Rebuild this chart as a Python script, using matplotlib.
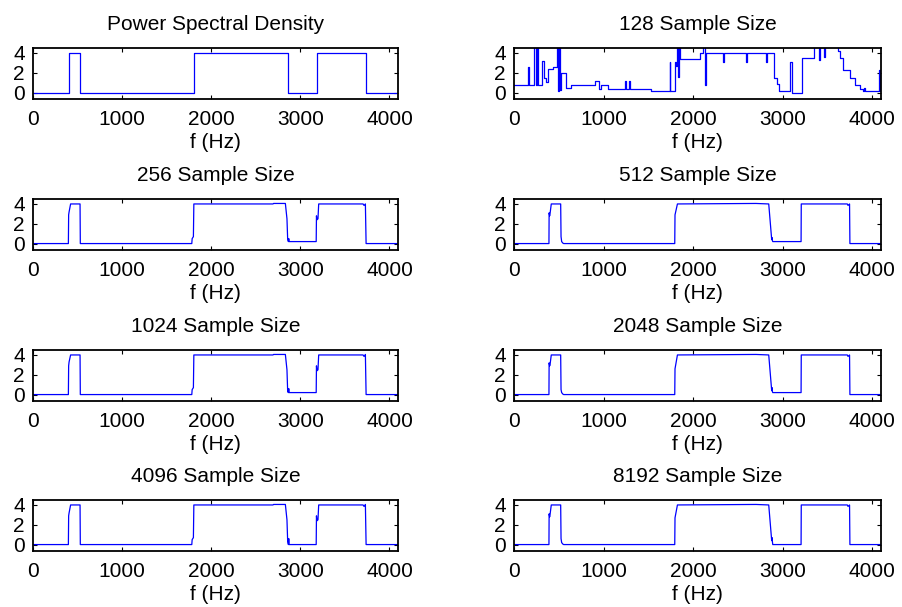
import matplotlib
matplotlib.use('Agg')
import matplotlib.pyplot as plt

plt.rcParams['font.family'] = ['Liberation Sans', 'DejaVu Sans']

titles = ['Power Spectral Density', '128 Sample Size', '256 Sample Size', '512 Sample Size',
          '1024 Sample Size', '2048 Sample Size', '4096 Sample Size', '8192 Sample Size']
xticks = [0, 1000, 2000, 3000, 4000]
yticks = [0, 2, 4]
xlabel = 'f (Hz)'

# ideal PSD (step function)
psd_f = [0, 400, 530, 1805, 2860, 3182, 3740, 4096]
psd_v = [0, 4, 0, 4, 0, 4, 0, 0]

# 128 sample estimate (step function)
s128_f = [0, 160, 170, 225, 240, 255, 270, 314, 340, 360, 378, 440, 479, 490, 500, 512, 520,
          580, 640, 900, 945, 975, 1045, 1238, 1246, 1283, 1291, 1530, 1736, 1744, 1795,
          1805, 1815, 1830, 1845, 1855, 2073, 2110, 2130, 2140, 2330, 2340, 2592, 2600,
          2816, 2824, 2903, 2940, 2959, 3080, 3100, 3213, 3352, 3400, 3415, 3460, 3470,
          3614, 3640, 3670, 3752, 3801, 3864, 3894, 3905, 3912, 4075, 4090, 4096]
s128_v = [0.8, 2.6, 0.8, 4.8, 0.8, 4.8, 0.8, 3.2, 1.5, 1.1, 2.4, 2.6, 4.8, 0.2, 4.8, 0.3, 2.0,
          0.5, 0.8, 1.2, 0.4, 0.8, 0.4, 1.2, 0.4, 1.2, 0.4, 0.15, 3.1, 0.15, 3.1,
          2.7, 4.8, 1.6, 4.8, 3.4, 4.0, 4.6, 0.8, 4.0, 3.1, 4.0, 3.1, 4.0,
          3.1, 4.0, 1.5, 0.9, 0.2, 3.1, 0.0, 3.5, 4.8, 3.3, 4.8, 3.6, 4.8,
          4.2, 3.5, 2.3, 1.5, 0.8, 0.4, 0.2, 0.45, 0.2, 2.3, 0.2, 0.2]

s256_f = [0, 397, 400, 405, 422, 528, 531, 1782, 1786, 1800, 1805, 2693, 2700, 2832, 2850,
          2858, 2866, 2870, 2874, 3178, 3181, 3186, 3198, 3206, 3704, 3715, 3730, 3738, 4096]
s256_v = [0, 0, 2.9, 3.2, 4.0, 4.0, 0, 0, 0.5, 0.7, 4.0, 4.0, 4.05, 4.05, 2.5,
          0.4, 0.2, 0.5, 0.2, 0.2, 2.8, 2.4, 2.5, 4.0, 4.0, 3.85, 4.0, 0, 0]

s512_f = [0, 390, 392, 398, 402, 416, 521, 525, 532, 545, 555, 1794, 1797, 1824, 2700,
          2843, 2876, 2880, 2884, 2888, 3204, 3206, 3720, 3728, 3745, 3749, 4096]
s512_v = [0, 0, 3.1, 2.8, 3.0, 4.0, 4.0, 0.7, 0.2, 0.05, 0, 0, 2.9, 4.0, 4.05,
          4.0, 0.4, 0.6, 0.3, 0.2, 0.2, 4.0, 4.0, 3.85, 4.0, 0, 0]

s1024_f = [0, 397, 400, 405, 422, 528, 531, 1782, 1786, 1800, 1805, 2693, 2700, 2832, 2850,
           2858, 2866, 2870, 2874, 3178, 3181, 3186, 3198, 3206, 3704, 3715, 3730, 3738, 4096]
s1024_v = [0, 0, 2.9, 3.3, 4.0, 4.0, 0, 0, 0.5, 0.7, 4.0, 4.0, 4.05, 4.05, 2.5,
           0.3, 0.2, 0.6, 0.2, 0.2, 2.9, 2.4, 2.5, 4.0, 4.0, 3.85, 4.05, 0, 0]

s2048_f = [0, 390, 392, 398, 402, 416, 521, 525, 532, 545, 555, 1794, 1797, 1824, 2700,
           2843, 2876, 2880, 2884, 2888, 3204, 3206, 3720, 3728, 3745, 3749, 4096]
s2048_v = [0, 0, 3.2, 2.9, 3.0, 4.0, 4.0, 0.5, 0.2, 0.05, 0, 0, 2.6, 4.0, 4.05,
           4.0, 0.4, 0.7, 0.3, 0.2, 0.2, 4.0, 4.0, 3.85, 4.0, 0, 0]

s4096_f = [0, 397, 400, 405, 422, 528, 531, 1782, 1786, 1800, 1805, 2693, 2700, 2832, 2850,
           2858, 2866, 2870, 2874, 3178, 3181, 3186, 3198, 3206, 3704, 3715, 3730, 3738, 4096]
s4096_v = [0, 0, 2.9, 3.2, 4.0, 4.0, 0, 0, 0.5, 0.7, 4.0, 4.0, 4.05, 4.05, 2.5,
           0.3, 0.0, 0.6, 0.0, 0.0, 2.9, 2.4, 2.5, 4.0, 4.0, 3.85, 4.05, 0, 0]

s8192_f = [0, 390, 392, 398, 402, 416, 521, 525, 532, 545, 555, 1794, 1797, 1824, 2700,
           2843, 2876, 2880, 2884, 2888, 3204, 3206, 3720, 3728, 3745, 3749, 4096]
s8192_v = [0, 0, 3.1, 2.8, 3.0, 4.0, 4.0, 0.6, 0.2, 0.05, 0, 0, 2.7, 4.0, 4.05,
           4.0, 0.4, 0.7, 0.3, 0.0, 0.0, 4.0, 4.0, 3.85, 4.0, 0, 0]

series = [(psd_f, psd_v, 'steps-post'), (s128_f, s128_v, 'steps-post'),
          (s256_f, s256_v, 'default'), (s512_f, s512_v, 'default'),
          (s1024_f, s1024_v, 'default'), (s2048_f, s2048_v, 'default'),
          (s4096_f, s4096_v, 'default'), (s8192_f, s8192_v, 'default')]

W, H = 902, 607
fig = plt.figure(figsize=(W / 100, H / 100), dpi=100)
col_x = [33, 514]
col_w = [365, 367]
row_top = [48, 199, 350, 500]
ax_h = 51
fs = 15

for i, (f, v, ds) in enumerate(series):
    r, c = divmod(i, 2)
    ax = fig.add_axes([col_x[c] / W, 1 - (row_top[r] + ax_h) / H, col_w[c] / W, ax_h / H])
    ax.plot(f, v, color='#0000ff', lw=0.9, drawstyle=ds)
    ax.set_xlim(0, 4096)
    ax.set_ylim(-0.65, 4.5)
    ax.set_xticks(xticks)
    ax.set_yticks(yticks)
    ax.tick_params(direction='in', length=3, width=0.8, top=True, right=True,
                   labelsize=fs, pad=8, colors='black')
    ax.tick_params(axis='y', pad=6)
    for s in ax.spines.values():
        s.set_linewidth(1.3)
    ax.set_title(titles[i], fontsize=fs, pad=13)
    ax.set_xlabel(xlabel, fontsize=fs, labelpad=2.5)

fig.savefig('out.png', dpi=100)
